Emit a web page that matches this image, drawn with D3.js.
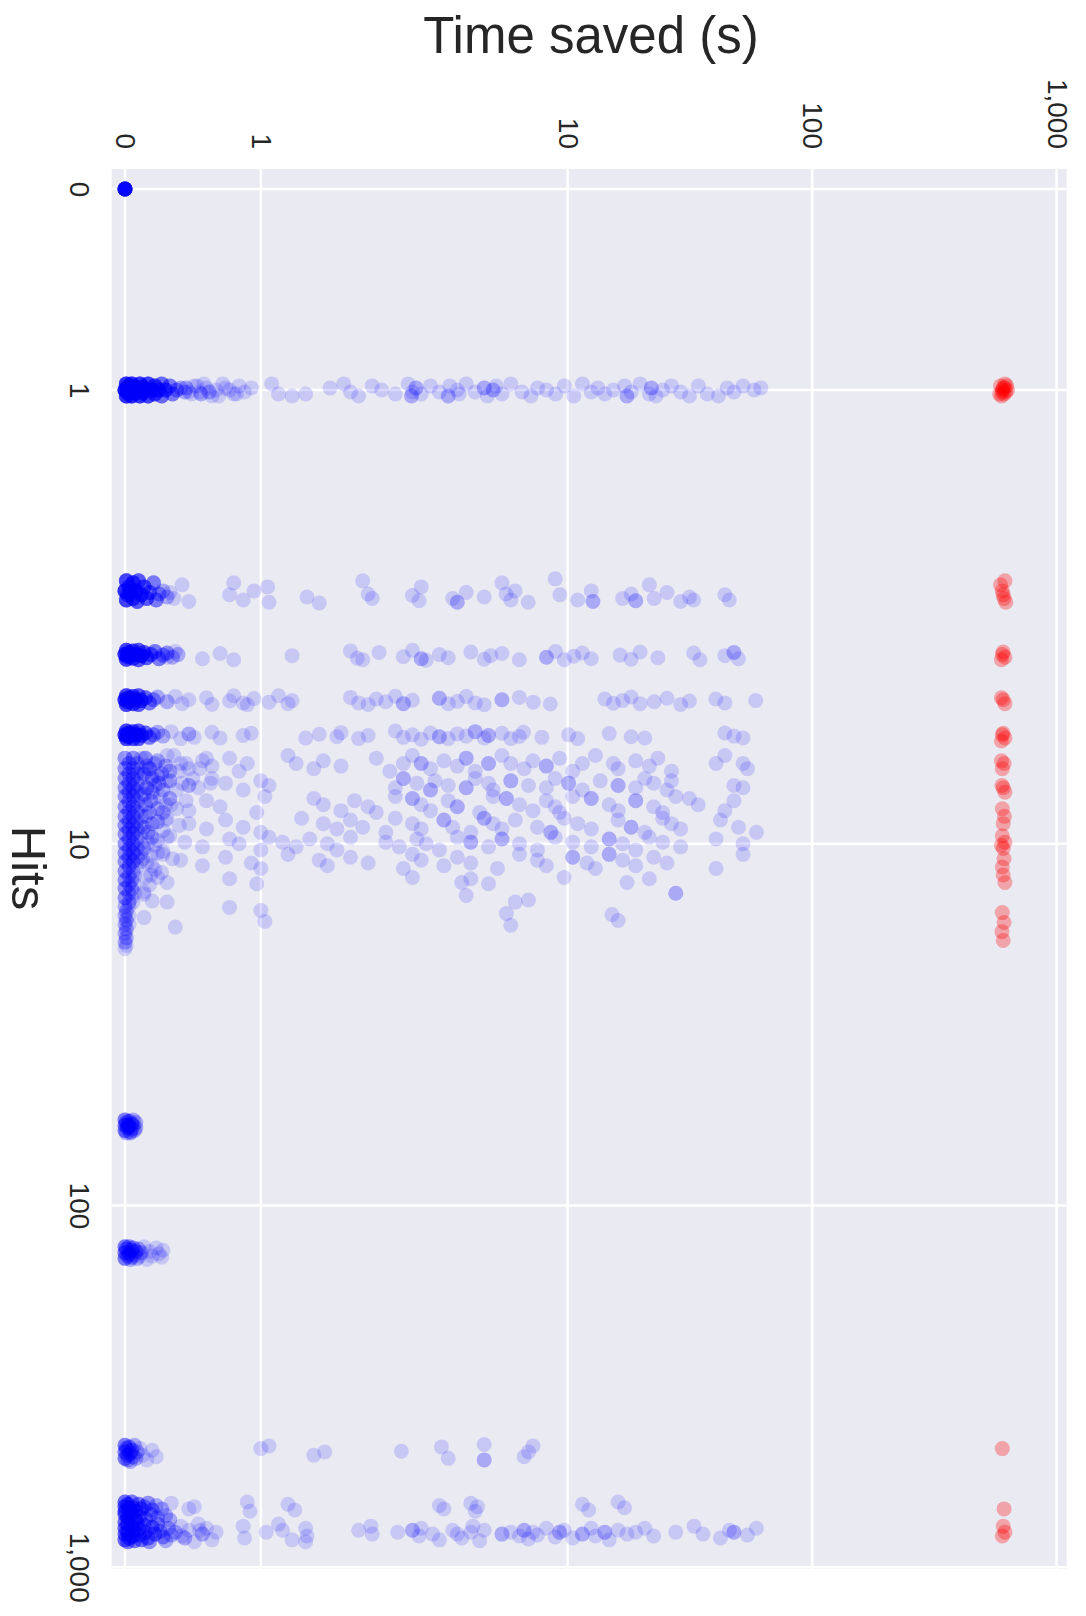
<!DOCTYPE html>
<html>
<head>
<meta charset="utf-8">
<script src="https://cdn.jsdelivr.net/npm/d3@7"></script>
<style>
  body { margin: 0; background: #fff; }
  text { font-family: "Liberation Sans", Arial, sans-serif; fill: #262626; }
</style>
</head>
<body>
<svg width="1086" height="1616"></svg>
<script>
// tick marks on both axes (symlog)
var tickValues = [0, 1, 10, 100, 1000];
var tickLabels = ["0", "1", "10", "100", "1,000"];

// every point is [hits, seconds saved, sessions on that spot (default 1)]
// hits carry the strip jitter
var zeroHits = [[0,0,20]];

var oneHit = [[1,0,14],[.97,.01,10],[1.03,.01,10],[.985,.02,8],[1.015,.02,8],[1,.04,14],[.97,.05,10],[1.03,.05,10],
  [.985,.07,8],[1.015,.07,8],[1,.09,12],[.97,.11,9],[1.03,.11,9],[.985,.13,7],[1.015,.13,7],[1,.15,10],
  [.97,.17,8],[1.03,.17,8],[1,.2,9],[.98,.22,7],[1.02,.22,7],[1,.25,7],[.97,.27,5],[1.03,.27,5],
  [1,.3,6],[.98,.33,4],[1.02,.35,4],[1,.38,3],[.99,.41,2],[1.01,.44,2],
  [.99,.45,2],[1.02,.49],[.98,.51],[1.01,.55],[.97,.58],[1.03,.64],[1,.67],[.99,.74],[1.02,.82],
  [1.01,.47],[.98,.53],[1.02,.56,2],[.99,.6],[1.01,.62,2],[1.03,.69],[.97,.72],[1,.77],[1.02,.8],[.98,.84],
  [1.01,.88],[.99,.93],[.97,1.08],[1.02,1.13],[1.03,1.23],[1.02,1.33],[.99,1.51],[.97,1.61],[1.01,1.66],[1.03,1.72],
  [.98,1.82],[1,1.89],[1.02,1.99],[.97,2.23],[1.03,2.3,2],[1.01,2.32],[.99,2.4,2],[1.02,2.52],[.98,2.75],[1.01,2.99],
  [1.03,3.25,2],[.98,3.3],[1,3.54],[1.02,3.6],[.97,3.85],[1.01,4.19],[.99,4.56,2],[1.03,4.7],[1,4.96,2],[.98,5.1],
  [1.02,5.39],[.97,5.86],[1.01,6.51],[1.03,7.08],[.99,7.54],[1,8.2],[1.02,8.93],[.98,9.7],[1.03,10.6],[.97,11.5],
  [1.01,12.5],[.99,13.3],[1.02,14.2],[1,15.4],[.98,17.1],[1.03,17.5,2],[1.01,18.2],[.97,19.8],[1.02,21.6],[.99,22,2],
  [1.03,23],[1,24.5],[.98,26.6],[1.01,29],[1.03,31.5],[.98,34.3],[1.02,37.3],[1.03,41.4],[.99,45],[1.01,47.9],
  [.98,52.2],[1,57.9],[.99,61.7]];

var twoToFive = [
  // 2 hits
  [2,0,10],[1.95,.01,8],[2.12,.01,8],[2.05,.02,6],[1.98,.03,6],[2.03,.04,10],[1.96,.06,7],[2.1,.06,7],
  [2,.08,8],[2.14,.09,6],[1.95,.1,6],[2.05,.12,7],[1.98,.14,6],[2.1,.16,6],[2.02,.18,5],[1.96,.21,4],
  [2.12,.23,4],[2.04,.25,3],[2,.28,2],[2.08,.31,2],
  [2.02,.33],[2.1,.36],[1.97,.42],[2.14,.47],[2.05,.77],[1.96,.8],[2.12,.87],[2,.95],[1.98,1.05],[2.15,1.06],
  [2.08,1.34],[2.16,1.43],[1.95,1.75],[2.04,1.79],[2.1,1.82],[2.06,2.32],[2.13,2.47],[1.98,2.52],[2.1,3.39],[2.15,3.54,2],
  [2.02,3.85],[2.08,4.56],[1.96,5.39],[2.04,5.6],[2.12,5.86],[2,6.1],[2.15,6.9],[1.94,8.9],[2.05,9.3],[2.12,11],
  [2,12.5],[2.14,12.7,2],[2.1,16.8],[2.04,18.2],[2.13,19,2],[1.97,21.6],[2.1,22.6],[2.02,25.5],[2.14,29],[2.08,31.5],
  [2.12,32.8],[2.05,44],[2.12,45.9],
  // 3 hits
  [3,0,10],[2.92,.01,8],[3.09,.01,8],[3.04,.02,6],[2.96,.03,6],[3,.04,10],[2.93,.06,7],[3.07,.06,7],
  [3,.08,8],[2.92,.1,6],[3.1,.1,6],[3.02,.12,7],[2.96,.14,6],[3.06,.16,6],[3,.19,5],[2.94,.22,4],
  [3.08,.25,4],[3.01,.28,3],[2.97,.31,3],[3.05,.35,2],[3,.39,2],
  [3.05,.31],[2.94,.37],[3.08,.57],[2.98,.7],[3.1,.8],[3.02,1.23],[2.93,1.66],[3.07,1.71],[3.1,1.75],[2.96,1.87],
  [3.04,2.13],[2.92,2.32],[3.08,2.52,2],[3.11,2.64],[3,2.99],[3.06,3.25],[2.95,4.02],[3.09,4.56],[3.02,4.85],[2.98,5.39],
  [3.1,6.35],[3.05,8.2,2],[2.94,8.93],[3.1,9.7],[3.03,10.6],[2.97,11.5],[3.08,12.5],[3.01,16.4],[3.09,18.2],[2.95,19.8],
  [3.06,23.4],[2.97,32.8],[3.1,34.8],[3.02,44],[2.96,47.9,2],[3.08,50],
  // 4 hits
  [4,0,10],[3.9,.01,8],[4.12,.01,8],[4.05,.02,6],[3.95,.03,6],[4,.04,10],[3.92,.06,7],[4.1,.06,7],
  [4,.08,8],[3.9,.1,6],[4.12,.1,6],[4.02,.12,6],[3.95,.15,5],[4.08,.18,4],[4,.21,3],[3.93,.24,2],
  [4.05,.31,2],[3.92,.37],[4.1,.42],[4,.47],[3.95,.6],[4.12,.64],[4.03,.77],[3.9,.8],[4.08,.87],[4.13,.9],
  [3.97,.95],[4.06,1.06],[3.9,1.13],[4.1,1.2],[4.02,1.23],[3.94,1.66],[4.08,1.72],[4.12,1.79],[3.98,1.85],[4.05,1.92],
  [3.91,1.99],[4.1,2.13,2],[4.01,2.32],[3.96,2.99,2],[4.1,3.25],[4.04,3.54],[3.92,3.85],[4.08,4.19],[4.13,4.56],[4,5.39,2],
  [3.94,6.35],[4.06,7.24],[4.11,8.5],[3.98,14.2],[4.09,15.4],[4.02,16.8],[3.93,18.2],[4.1,19.8],[4.05,22.6],[3.96,25.5],
  [4.12,29],[4.03,31.5],[3.98,40.4],[4.08,44],[4.02,58.8],
  // 5 hits
  [5,0,10],[4.88,.01,8],[5.12,.01,8],[5.05,.02,6],[4.94,.03,6],[5,.04,10],[4.9,.06,7],[5.12,.06,7],
  [5,.08,8],[4.88,.1,6],[5.12,.1,6],[5.02,.12,6],[4.94,.15,5],[5.08,.18,4],[5,.21,3],[4.92,.24,2],
  [5.04,.28,2],[4.9,.34],[5.12,.41],[4.97,.47,2],[5.08,.51],[4.92,.64],[5.1,.7],[5.02,.87],[4.95,.93],[5.1,1.33],
  [4.98,1.43],[5.06,1.56],[4.93,1.59],[5.12,1.72],[5.02,1.79],[4.88,1.99],[5.08,2.13],[5,2.32],[5.14,2.52],[4.94,2.75],
  [5.06,2.99,2],[5.12,3.25],[4.97,3.54],[5.04,3.85],[4.9,4.19,2],[5.1,4.56],[5.02,4.75,2],[4.95,5.39],[5.12,5.86],[5.05,6.35],
  [4.92,6.6],[5.08,7.85],[5,10.1],[5.12,11],[4.96,14.8],[5.06,18.2],[5.1,20.7],[4.94,44],[5.04,47.9],[5.1,52.2]];

// 6 to ~19 hits: the rows run together
var sixToNineteen = [
  [5.8,0,3],[5.8,.06,3],[5.8,.12,1],[6.2,0,3],[6.2,.06,3],[6.2,.12,1],[6.6,0,3],[6.6,.06,3],[6.6,.12,1],
  [7,0,3],[7,.06,3],[7,.12,1],[7.4,0,3],[7.4,.06,3],[7.4,.12,1],[7.9,0,3],[7.9,.06,3],[7.9,.12,1],
  [8.4,0,3],[8.4,.06,3],[8.4,.12,1],[8.9,0,3],[8.9,.06,3],[8.9,.12,1],[9.4,0,3],[9.4,.06,3],[9.4,.12,1],
  [10,0,3],[10,.06,3],[10,.12,1],[10.6,0,3],[10.6,.06,3],[10.6,.12,1],[11.2,0,3],[11.2,.06,3],[11.2,.12,1],
  [11.9,0,3],[11.9,.06,2],[12.6,0,3],[12.6,.05,2],[13.3,0,3],[13.3,.05,2],[14.1,0,3],[14.1,.05,1],
  [14.9,0,2],[14.9,.03,1],[15.8,0,2],[15.8,.03,1],[16.7,0,2],[16.7,.03,1],[17.7,0,2],[18.7,0,2],[19.5,0,1],
  [6,.03,3],[6,.09,2],[6.4,.03,3],[6.4,.09,2],[6.8,.03,3],[6.8,.09,2],[7.2,.03,3],[7.2,.09,2],
  [7.65,.03,3],[7.65,.09,2],[8.15,.03,3],[8.15,.09,2],[8.65,.03,3],[8.65,.09,2],[9.15,.03,3],[9.15,.09,2],
  [9.7,.03,3],[9.7,.09,2],[10.3,.03,3],[10.3,.09,2],[10.9,.03,3],[10.9,.09,2],[11.55,.03,3],[11.55,.09,1],
  [12.25,.03,2],[12.25,.07,1],[12.95,.03,2],[12.95,.07,1],[13.7,.03,2],[13.7,.07,1],[14.5,.03,2],[14.5,.06,1],
  [15.35,.01,2],[16.25,.01,2],[17.2,.01,2],[18.2,.01,2],[19.1,.01,1],
  [5.8,.15,3],[6.2,.18,3],[6.6,.2,3],[7,.16,3],[6,.22,2],[6.4,.14,3],[6.8,.25,2],[5.9,.24,2],[6.4,.27,2],
  [6.9,.22,2],[6.1,.3,2],[6.7,.33,2],[5.7,.36],[6.3,.4],[7.1,.38],[6,.45],[6.6,.5],[6.9,.47],[6.2,.55],
  [5.8,.6],[6.8,.63],[7.3,.14,2],[7.6,.19,2],[8,.24,2],[7.8,.3],[7.4,.26],[7.2,.2,2],[7.8,.15,2],[8.2,.18,2],
  [8.4,.15,2],[8.8,.2,2],[9.3,.17,2],[9.8,.24],[10.3,.14,2],[10.8,.19],[11.3,.16],[11.8,.22],[12.4,.15],[8.6,.3],
  [9.5,.33],[10.5,.28],[11,.35],[12,.27],[13,.18],[13.6,.14],[14.4,.2],[9,.14,2],[9.9,.17],[11,.13],
  [6.1,.16,2],[6.5,.24,2],[7.1,.28,2],[7.5,.33,2],[8.2,.28,2],[8.7,.24,2],[9.2,.28],[9.6,.2,2],[10.1,.22],[10.6,.24],
  [11.5,.2],[12.2,.19],[8,.38],[8.9,.4],[6.3,.33,2],[6.8,.42],[7.6,.45],
  // around 6
  [5.7,.31],[6,.41],[6.2,.47],[5.9,.57],[6.1,.64],[5.8,.77],[6.3,.84],[6,.9],[5.7,1.2],[6,1.26],
  [6.2,1.39],[5.9,1.46],[6.1,1.59],[5.8,1.85],[6.3,1.95],[6,2.13],[5.7,2.32],[6,2.52,2],[6.2,2.75],[5.9,3.12],
  [6.1,3.54],[5.8,3.85,2],[6.3,4.19],[6,4.75,2],[5.7,5.39],[6,5.86],[6.2,6.64],[5.9,7.22],[6.1,8.19,2],[5.8,9.28],
  [6.3,10.5],[6,11.5],[5.7,13],[6,15.4],[6.2,16.1],[5.9,19],[6.1,21.6],[5.8,23.4],[6.3,26.6],[6,40.5],
  [5.7,44],[6,52.2],[6.2,54.4],
  // around 7
  [6.7,.31],[6.9,.47],[7,.54],[6.6,.64],[6.8,.74],[7.1,.87],[6.7,1],[6.9,1.06],[7,1.99],[6.6,2.13,2],
  [6.8,2.42],[7.1,2.75,2],[6.7,2.87],[6.9,3.25],[7,3.85,2],[6.6,4.19],[6.8,4.75],[7.1,4.96],[6.7,5.86,2],[6.9,6.92],
  [7,8.19],[6.6,8.9],[6.8,10.1,2],[7.1,11.5],[6.7,13.6],[6.9,16.1,2],[7,19],[6.6,20.7],[6.8,22.5],[7.1,25.5],
  [6.7,26.6],[6.9,47.9],[7,52.2],
  // around 8
  [7.5,.21],[7.8,.34],[8.1,.47],[7.6,.6],[7.9,.7],[8.2,.97],[7.4,1.03],[7.5,1.39],[7.8,1.46],[8.1,1.59],
  [7.6,1.69],[7.9,1.79],[8.2,1.85],[7.4,1.99],[7.5,2.32,2],[7.8,2.52],[8.1,2.75],[7.6,3.25],[7.9,3.54,2],[8.2,4.37],
  [7.4,4.96],[7.5,5.62,2],[7.8,6.36],[8.1,7.22],[7.6,8.19],[7.9,8.9],[8.2,9.28],[7.4,10.5],[7.5,12.5,2],[7.8,14.8],
  [8.1,16.1],[7.6,19,2],[7.9,22.5],[8.2,24.5],[7.4,27.7],[7.5,31.5],[7.8,34.2],[8.1,44],[7.6,47.9],
  // around 9
  [8.5,.31],[8.8,.47],[9.1,.6],[8.6,.74],[9,.87],[9.3,1],[8.5,1.3],[8.8,1.46],[9.1,1.56],[8.6,1.66],
  [9,1.75],[9.3,1.92],[8.5,1.99],[8.8,2.32],[9.1,2.52],[8.6,3.12,2],[9,3.39],[9.3,4.02],[8.5,4.56,2],[8.8,4.96],
  [9.1,5.39],[8.6,6.11],[9,7.53],[9.3,8.54,2],[8.5,9.68],[8.8,11],[9.1,12.5],[8.6,16.1],[9,18.2,2],[9.3,20.7],
  [8.5,24.5],[8.8,26.6],[9.1,29],[8.6,42.2],[9,50],[9.3,59.2],
  // around 10
  [9.6,.31],[9.9,.44],[10.2,.57],[9.7,.77],[10,.84],[10.4,1],[9.6,1.06],[9.9,1.16],[10.2,1.26],[9.7,1.36],
  [10,1.49],[10.4,1.56],[9.6,1.66],[9.9,1.92],[10.2,2.05],[9.7,2.42],[10,2.64],[10.4,2.99],[9.6,3.54],[9.9,4.02,2],
  [10.2,4.75],[9.7,5.39,2],[10,6.36],[10.4,7.53],[9.6,8.9],[9.9,10.5],[10.2,12.5],[9.7,14.8,2],[10,16.8],[10.4,19],
  [9.6,21.6],[9.9,24.5],[10.2,29],[9.7,40.5],[10,52.2],
  // around 11
  [10.7,.28],[11.1,.41],[11.5,.57],[10.9,.74],[11.3,.93],[11.7,1],[10.7,1.2],[11.1,1.43],[11.5,1.49],[10.9,1.66],
  [11.3,1.79],[11.7,2.13],[10.7,2.32],[11.1,2.52],[11.5,3.12],[10.9,3.54],[11.3,4.02],[11.7,5.17],[10.7,6.36],[11.1,7.53],
  [11.5,8.19],[10.9,10.5,2],[11.3,12],[11.7,13],[10.7,14.8,2],[11.1,16.8],[11.5,19],[10.9,22.5],[11.3,25.5],[11.7,40.5],
  [10.7,52.2],
  // 12 and beyond
  [12.4,.24],[12.8,.31],[12.5,.77],[12.9,.97],[12.4,2.32],[12.8,3.69],[12.5,4.02],[12.9,4.75],[12.4,9.68],[12.8,17.5],
  [12.5,21.6],[13.8,.14],[14.5,.31],[15,.77],[13.9,3.85],[14.5,6.11],[14.3,6.92],[13.7,27.7,2],
  [16,.14],[17,.37],[15.3,1.0],[16.4,1.03],[15.6,5.62],[16.8,5.86],[16.3,16.1],[15.7,15.2]];

var manyHits = [
  // ~60 hits
  [58,0,4],[60,0,4],[62,0,4],[59,.01,3],[61,.02,3],[63,.01,2],[58.5,.03,3],[60.5,.03,3],[62.5,.04,2],[59.5,.05,3],
  [61.5,.05,2],[58,.06,2],[60,.06,2],[62,.07,2],[63,.04,2],[59,.08,2],[61,.08,2],[60,.02,3],
  // ~135 hits
  [130,0,4],[135,0,4],[140,0,4],[132,.01,3],[138,.02,3],[130,.03,3],[136,.03,3],[141,.04,2],[133,.05,3],[139,.05,2],
  [131,.06,3],[137,.07,2],[134,.08,3],[140,.09,2],[132,.1,2],[138,.11],[135,.12,2],[130,.14],[141,.16],[134,.18],
  [138,.2],[131,.23],[136,.25],[133,.28],[139,.27],
  // ~480 hits
  [460,0,4],[480,0,4],[500,0,4],[470,.01,3],[490,.02,3],[505,.02,2],[465,.03,3],[485,.04,3],[510,.04,2],[475,.05,3],
  [495,.06,2],[460,.07,2],[500,.08,2],[480,.09,2],[470,.11],[490,.13],[505,.16],[475,.2],[495,.23],
  [470,1.0],[462,1.06],[490,1.39],[480,1.47],[478,2.09],[465,3.05],[500,3.25],[458,4.56],[505,4.56,2],[495,6.64],
  [480,6.92],[462,7.22],
  // ~650 to ~850 hits
  [660,0,5],[680,0,5],[700,0,5],[670,.02,5],[690,.03,5],[705,.04,4],[660,.05,4],[685,.06,4],[700,.08,4],[670,.1,4],
  [690,.12,4],[680,.14,3],[665,.17,3],[695,.2,3],[675,.23,2],[690,.27,2],
  [715,0,5],[730,.02,5],[720,.05,4],[740,.08,4],[725,.11,4],[735,.15,3],[715,.19,3],[730,.24,2],[720,.3,2],[740,.33,2],
  [750,0,5],[780,0,5],[810,0,5],[840,0,5],[760,.02,5],[800,.02,5],[830,.03,5],[850,.02,4],[770,.05,5],[790,.06,5],
  [820,.06,5],[845,.07,4],[755,.09,4],[785,.1,4],[815,.11,4],[840,.12,4],[765,.14,4],[800,.15,4],[830,.17,4],[850,.18,3],
  [775,.2,4],[810,.22,4],[760,.24,3],[795,.26,3],[825,.28,3],[845,.3,2],[780,.32,2],[815,.34,2],
  [665,.34],[690,.47],[680,.51],[660,.9],[700,.92],[670,1.2],[695,1.25],[675,2.99],[690,3.12],[665,4.02],
  [700,4.19],[680,4.28],[670,11.5],[695,12.2],[660,16.1],[685,17.1],
  [800,.37,2],[770,.41],[830,.44,2],[790,.47],[850,.51],[760,.54],[810,.57,2],[780,.6],[840,.64],[800,.67],
  [820,.42],[790,.55],[770,.87],[830,.88],[800,1.04],[760,1.13],[790,1.16],[840,1.23],[780,1.33],[820,1.34],
  [850,1.33],[790,1.72],[770,1.81],[810,1.82],[800,2.02],[790,2.32,2],[820,2.47],[780,2.52],[810,2.81],[840,2.99],
  [790,3.39],[810,3.54],[830,3.69],[800,4.02],[770,4.1],[845,4.37],[790,4.56],[810,5.39,2],[800,5.86],[820,6.36],
  [790,6.64,2],[835,6.92],[800,7.22],[815,7.53],[780,8.19],[825,8.9],[800,9.28,2],[790,9.68],[830,10.5],[810,11.5,2],
  [780,12.5],[820,13],[800,14.2,2],[840,14.8],[790,16.1],[810,17.5],[800,19],[780,20.7],[820,22.5],[800,27.7],
  [770,32.9],[810,35.8],[830,42.2],[790,45.9],[800,47.9,2],[815,54.4],[780,59.2]];

// red series (sits near 600 s)
var redPoints = [
  [1,600],[.98,590],[1.02,610],[1.01,620],[.99,605],[1.03,595],[.97,615],[1,630],[1.02,585],[.98,625],[1.01,600],[.99,612],
  [2,600],[2.1,610],[1.97,590],[2.15,620],[2.05,605],[1.95,615],
  [3,600],[3.05,615],[2.95,605],[3.1,595],
  [4,605],[4.1,615],[3.95,595],
  [5,600],[5.1,615],[4.95,605],[5.2,595],
  [6,610],[6.2,600],[5.9,595],
  [7,605],[7.2,615],[6.9,598],
  [8,600],[8.4,612],[8.8,605],
  [9.5,600],[9.9,615],[10.3,605],[10.1,595],
  [11,610],[11.6,600],[12.2,605],[12.8,615],
  [15.5,600],[16.5,610],[17.5,598],[18.5,605],
  [470,600],[690,610],[770,605],[800,615],[820,600]];

var svg = d3.select("svg"),
    width = +svg.attr("width"),
    height = +svg.attr("height");

var plot = {left: 111.7, right: 1066.7, top: 169, bottom: 1569};

// matplotlib symlog, linthresh 2, linscale 1
var linthresh = 2, linAdj = 1 / (1 - 1 / 10);
function symlog(v) {
  return v <= linthresh ? v / linthresh * linAdj : linAdj + Math.log10(v / linthresh);
}

var x = d3.scaleLinear().domain([-0.0544, 3.8515]).range([plot.left, plot.right]);
var y = d3.scaleLinear().domain([-0.0552, 3.815]).range([plot.top, plot.bottom]);

svg.append("rect")
  .attr("x", plot.left).attr("y", plot.top)
  .attr("width", plot.right - plot.left).attr("height", plot.bottom - plot.top)
  .attr("fill", "#eaeaf2");

var grid = svg.append("g").attr("stroke", "#fff").attr("stroke-width", 2.5);
grid.selectAll(".gx").data(tickValues).enter().append("line")
  .attr("x1", function(d) { return x(symlog(d)); })
  .attr("x2", function(d) { return x(symlog(d)); })
  .attr("y1", plot.top).attr("y2", plot.bottom);
grid.selectAll(".gy").data(tickValues).enter().append("line")
  .attr("y1", function(d) { return y(symlog(d)); })
  .attr("y2", function(d) { return y(symlog(d)); })
  .attr("x1", plot.left).attr("x2", plot.right);

// axes (labels turned a quarter turn, like the picture)
var xAxis = d3.axisTop(x)
  .tickValues(tickValues.map(symlog))
  .tickFormat(function(d, i) { return tickLabels[i]; })
  .tickSize(0);
var yAxis = d3.axisLeft(y)
  .tickValues(tickValues.map(symlog))
  .tickFormat(function(d, i) { return tickLabels[i]; })
  .tickSize(0);

var gx = svg.append("g").attr("transform", "translate(0," + plot.top + ")").call(xAxis);
var gy = svg.append("g").attr("transform", "translate(" + plot.left + ",0)").call(yAxis);
[gx, gy].forEach(function(g) {
  g.select(".domain").remove();
  g.selectAll("text")
    .style("font-family", "'Liberation Sans', Arial, sans-serif")
    .style("font-size", "28px")
    .attr("fill", "#333");
});
gx.selectAll("text")
  .attr("transform", "rotate(90)")
  .attr("x", -20).attr("y", 0).attr("dy", null)
  .attr("text-anchor", "end")
  .attr("dominant-baseline", "central");
gy.selectAll("text")
  .attr("transform", "rotate(90)")
  .attr("x", 0).attr("y", 32).attr("dy", null)
  .attr("text-anchor", "middle")
  .attr("dominant-baseline", "central");

// one circle per session
function expand(rows) {
  var out = [];
  rows.forEach(function(d) {
    var n = d[2] || 1;
    for (var i = 0; i < n; i++) out.push(d);
  });
  return out;
}

var blue = expand(zeroHits.concat(oneHit, twoToFive, sixToNineteen, manyHits));
svg.append("g")
  .selectAll("circle")
  .data(blue)
  .enter().append("circle")
    .attr("cx", function(d) { return x(symlog(d[1])); })
    .attr("cy", function(d) { return y(symlog(d[0])); })
    .attr("r", 7.5)
    .attr("fill", "#0000ff")
    .attr("fill-opacity", 0.15);

svg.append("g")
  .selectAll("circle")
  .data(expand(redPoints))
  .enter().append("circle")
    .attr("cx", function(d) { return x(symlog(d[1])); })
    .attr("cy", function(d) { return y(symlog(d[0])); })
    .attr("r", 7.5)
    .attr("fill", "#ff0000")
    .attr("fill-opacity", 0.3);

// axis titles
svg.append("text")
  .attr("x", 591).attr("y", 53)
  .attr("text-anchor", "middle")
  .style("font-size", "51px")
  .text("Time saved (s)");

svg.append("text")
  .attr("transform", "translate(12,868) rotate(90)")
  .attr("text-anchor", "middle")
  .style("font-size", "49px")
  .text("Hits");
</script>
</body>
</html>
